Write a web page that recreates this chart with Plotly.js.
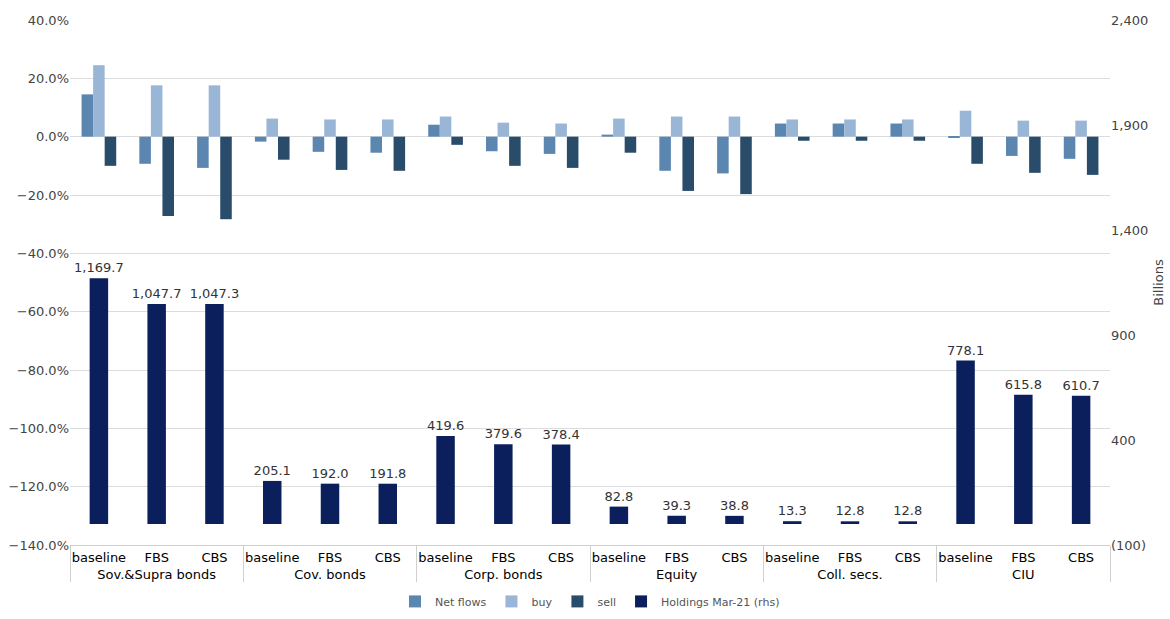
<!DOCTYPE html>
<html>
<head>
<meta charset="utf-8">
<script src="https://cdn.plot.ly/plotly-3.0.1.min.js"></script>
<style>body{margin:0;background:#fff}</style>
</head>
<body>
<div id="chart" style="width:1170px;height:619px"></div>
<script>
var grupos = ['Sov.&Supra bonds','Cov. bonds','Corp. bonds','Equity','Coll. secs.','CIU'];
var escenarios = ['baseline','FBS','CBS'];

var netFlows = [14.5,-9.3,-10.7, -1.7,-5.2,-5.5, 4.1,-5.0,-5.9, 0.7,-11.7,-12.6, 4.5,4.5,4.5, -0.4,-6.6,-7.6];
var buy      = [24.5,17.6,17.6, 6.2,5.9,5.9, 6.9,4.8,4.5, 6.2,6.9,6.9, 5.9,5.9,5.9, 8.9,5.5,5.5];
var sell     = [-10.0,-27.2,-28.3, -7.9,-11.4,-11.7, -2.8,-10.0,-10.7, -5.5,-18.6,-19.7, -1.4,-1.4,-1.4, -9.3,-12.4,-13.1];
var holdings = [1169.7,1047.7,1047.3, 205.1,192.0,191.8, 419.6,379.6,378.4, 82.8,39.3,38.8, 13.3,12.8,12.8, 778.1,615.8,610.7];

var nivel1 = [], nivel2 = [];
grupos.forEach(function(g){
    escenarios.forEach(function(e){ nivel1.push(g); nivel2.push(e); });
});
var x = [nivel1, nivel2];

var trace1 = {type:'bar', name:'Net flows', x:x, y:netFlows, offset:-0.3, width:0.2,
    marker:{color:'#5b86b0'}};
var trace2 = {type:'bar', name:'buy', x:x, y:buy, offset:-0.1, width:0.2,
    marker:{color:'#9ab6d6'}};
var trace3 = {type:'bar', name:'sell', x:x, y:sell, offset:0.1, width:0.2,
    marker:{color:'#2a4c6b'}};
var trace4 = {type:'bar', name:'Holdings Mar-21 (rhs)', x:x, y:holdings, yaxis:'y2',
    offset:-0.16, width:0.32, marker:{color:'#0a1f5c'},
    texttemplate:'%{y:,.1f}', textposition:'outside', cliponaxis:false, constraintext:'none',
    textfont:{size:13, color:'#333'}};

var layout = {
    barmode:'overlay',
    margin:{l:70, r:60, t:20, b:74},
    font:{family:'DejaVu Sans, Verdana, sans-serif', size:13, color:'#333'},
    showlegend:true,
    legend:{orientation:'h', x:0.5, xanchor:'center', yref:'container', y:0.005, yanchor:'bottom',
        font:{size:11, color:'#555'}, itemwidth:30},
    xaxis:{type:'multicategory', showdividers:true, dividercolor:'#d0d0d0', tickangle:0,
        automargin:false, showline:true, linecolor:'#d0d0d0', tickfont:{size:13, color:'#000'}},
    yaxis:{range:[-140,40], dtick:20, tickformat:'.1f', ticksuffix:'%', automargin:false,
        gridcolor:'#dcdcdc', zeroline:false, tickfont:{size:13, color:'#444'}},
    yaxis2:{overlaying:'y', side:'right', range:[-100,2400], tickvals:[-100,400,900,1400,1900,2400],
        ticktext:['(100)','400','900','1,400','1,900','2,400'], showgrid:false, zeroline:false,
        automargin:false, tickfont:{size:13, color:'#444'},
        title:{text:'Billions', font:{size:13, color:'#444'}, standoff:6}}
};

Plotly.newPlot('chart', [trace1,trace2,trace3,trace4], layout, {displayModeBar:false});
</script>
</body>
</html>
